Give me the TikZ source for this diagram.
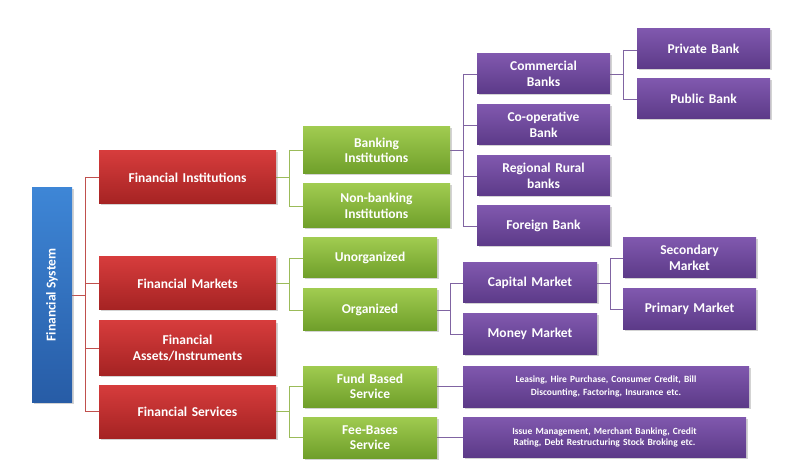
\documentclass[tikz,border=0pt]{standalone}
\usepackage{fontspec}
\setmainfont{Carlito}
\usetikzlibrary{shadows}
\definecolor{rT}{HTML}{D63C3C}\definecolor{rB}{HTML}{A52323}
\definecolor{gT}{HTML}{A0CB50}\definecolor{gB}{HTML}{6F9F2A}
\definecolor{pT}{HTML}{8058AE}\definecolor{pB}{HTML}{5C3A88}
\definecolor{bT}{HTML}{3E86D6}\definecolor{bB}{HTML}{275CA6}
\definecolor{rL}{HTML}{C0504D}\definecolor{gL}{HTML}{9BBB59}\definecolor{pL}{HTML}{8064A2}
\tikzset{
 bx/.style={inner sep=1pt,align=center,text=white,font=\bfseries\fontsize{13.5}{15.5}\selectfont,
   drop shadow={shadow xshift=1.5pt,shadow yshift=-1.5pt,opacity=0.35}},
 red/.style={bx,top color=rT,bottom color=rB},
 grn/.style={bx,top color=gT,bottom color=gB},
 pur/.style={bx,top color=pT,bottom color=pB},
 blu/.style={bx,top color=bT,bottom color=bB},
 sml/.style={font=\bfseries\fontsize{9.5}{13}\selectfont},
 cr/.style={draw=rL,line width=0.9pt},
 cg/.style={draw=gL,line width=0.9pt},
 cp/.style={draw=pL,line width=0.9pt},
}
\newcommand\bx[7]{\node[#2,minimum width={(#5-#3)*1pt},minimum height={(#6-#4)*1pt},text width={(#5-#3-6)*1pt}] (#1) at ({(#3+#5)/2},{(#4+#6)/2}) {#7};}
\begin{document}
\begin{tikzpicture}[x=1pt,y=-1pt]
\useasboundingbox (0,0) rectangle (785,473);
% connectors
\draw[cr] (72,295) -- (85,295);
\draw[cr] (85,177) |- (99,177) (85,177) -- (85,411) -- (99,411) (85,283) -- (99,283) (85,348) -- (99,348);
\draw[cg] (276,177) -- (289,177) (289,150) -- (289,206) (289,150) -- (303,150) (289,206) -- (303,206);
\draw[cg] (276,283) -- (289,283) (289,258) -- (289,310) (289,258) -- (303,258) (289,310) -- (303,310);
\draw[cg] (276,411) -- (289,411) (289,386) -- (289,437) (289,386) -- (303,386) (289,437) -- (303,437);
\draw[cp] (450,150) -- (463,150) (463,74) -- (463,226) (463,74) -- (477,74) (463,125) -- (477,125) (463,176) -- (477,176) (463,226) -- (477,226);
\draw[cp] (610,74) -- (623,74) (623,50) -- (623,99) (623,50) -- (637,50) (623,99) -- (637,99);
\draw[cp] (437,310) -- (450,310) (450,283) -- (450,334) (450,283) -- (463,283) (450,334) -- (463,334);
\draw[cp] (597,283) -- (610,283) (610,258) -- (610,309) (610,258) -- (623,258) (610,309) -- (623,309);
\draw[cp] (437,386) -- (463,386) (437,437) -- (463,437);
% boxes
\node[blu,minimum width=214pt,minimum height=40pt,rotate=90] (fs) at (52,295) {Financial System};
\bx{fi}{red}{99}{151}{276}{204}{Financial Institutions}
\bx{fm}{red}{99}{257}{276}{310}{Financial Markets}
\bx{fa}{red}{99}{321}{276}{375}{Financial\\Assets/Instruments}
\bx{fsv}{red}{99}{385}{276}{438}{Financial Services}
\bx{bi}{grn}{303}{127}{450}{174}{Banking\\Institutions}
\bx{nb}{grn}{303}{184}{450}{228}{Non-banking\\Institutions}
\bx{un}{grn}{303}{238}{437}{278}{Unorganized}
\bx{or}{grn}{303}{289}{437}{330}{Organized}
\bx{fb}{grn}{303}{366}{437}{407}{Fund Based\\Service}
\bx{fe}{grn}{303}{417}{437}{458}{Fee-Bases\\Service}
\bx{cb}{pur}{477}{54}{610}{94}{Commercial\\Banks}
\bx{co}{pur}{477}{105}{610}{145}{Co-operative\\Bank}
\bx{rr}{pur}{477}{156}{610}{196}{Regional Rural\\banks}
\bx{fo}{pur}{477}{206}{610}{246}{Foreign Bank}
\bx{pv}{pur}{637}{29}{770}{69}{Private Bank}
\bx{pb}{pur}{637}{79}{770}{119}{Public Bank}
\bx{cm}{pur}{463}{263}{597}{303}{Capital Market}
\bx{mm}{pur}{463}{314}{597}{354}{Money Market}
\bx{sm}{pur}{623}{238}{756}{278}{Secondary\\Market}
\bx{pm}{pur}{623}{289}{756}{329}{Primary Market}
\bx{le}{pur,sml}{463}{366}{749}{407}{Leasing, Hire Purchase, Consumer Credit, Bill\\Discounting, Factoring, Insurance etc.}
\bx{is}{pur,sml,font=\bfseries\fontsize{9.5}{11}\selectfont}{463}{417}{746}{457}{Issue Management, Merchant Banking, Credit\\Rating, Debt Restructuring Stock Broking etc.}
\end{tikzpicture}
\end{document}
